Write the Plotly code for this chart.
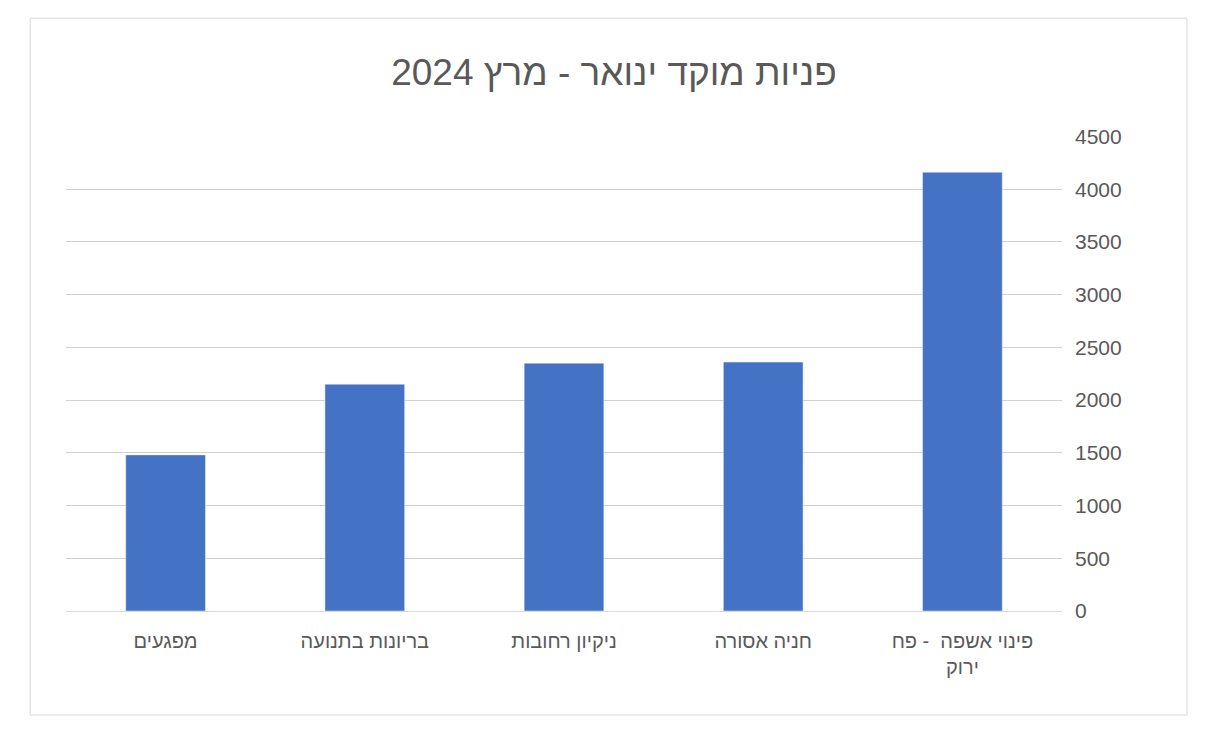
import plotly.graph_objects as go

categories = ["מפגעים", "בריונות בתנועה", "ניקיון רחובות", "חניה אסורה", "פינוי אשפה  - פח<br>ירוק"]
values = [1480, 2150, 2350, 2360, 4160]
tick_vals = [0, 500, 1000, 1500, 2000, 2500, 3000, 3500, 4000, 4500]

font = "Arial, Liberation Sans, DejaVu Sans, sans-serif"
fig = go.Figure(go.Bar(x=categories, y=values, marker_color="#4472C4", width=0.4))
fig.update_layout(
    width=1217, height=737,
    margin=dict(l=58, r=163, t=128, b=134),
    paper_bgcolor="white", plot_bgcolor="white",
    title=dict(text="פניות מוקד ינואר - מרץ 2024", x=606 / 1217, xanchor="center",
               y=1 - 64 / 737, yanchor="middle", font=dict(family=font, size=37, color="#595959")),
    xaxis=dict(showgrid=False, showline=True, linecolor="#D9D9D9", linewidth=1,
               tickfont=dict(family=font, size=20, color="#595959"), ticks="", ticklabelstandoff=12),
    yaxis=dict(side="right", range=[0, 4504], tickvals=tick_vals, gridcolor="#D0D0D0",
               zeroline=False, tickfont=dict(family=font, size=21, color="#595959"), ticklabelstandoff=12),
    showlegend=False,
    shapes=[dict(type="rect", xref="paper", yref="paper", x0=-0.036, x1=1.1255, y0=-0.219, y1=1.248,
                 line=dict(color="#D9D9D9", width=1))],
)
fig.write_html("out.html")
